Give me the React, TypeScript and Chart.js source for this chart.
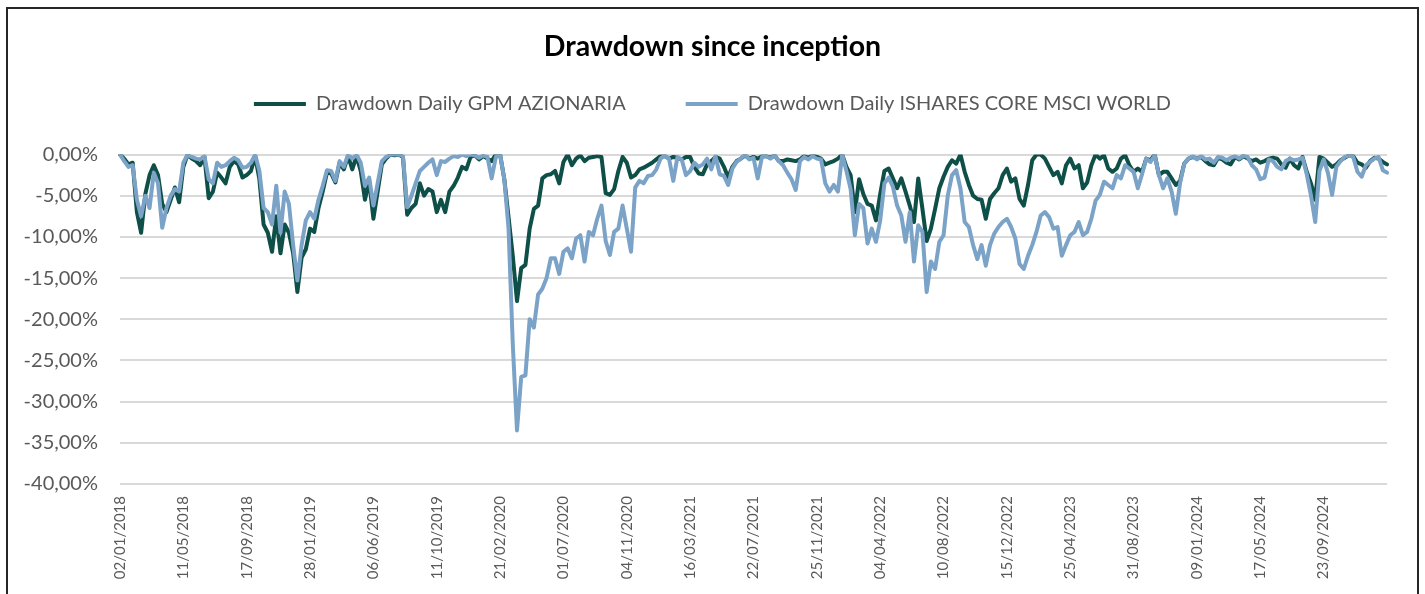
import React, { useEffect, useRef } from 'react';
import { Chart, registerables } from 'chart.js';

Chart.register(...registerables);

const TICK_LABELS = [
  '02/01/2018', '11/05/2018', '17/09/2018', '28/01/2019', '06/06/2019',
  '11/10/2019', '21/02/2020', '01/07/2020', '04/11/2020', '16/03/2021',
  '22/07/2021', '25/11/2021', '04/04/2022', '10/08/2022', '15/12/2022',
  '25/04/2023', '31/08/2023', '09/01/2024', '17/05/2024', '23/09/2024',
];

// samples between two labelled dates
const SAMPLES_PER_TICK = 15;

const SERIES_GPM = 'Drawdown Daily GPM AZIONARIA';
const SERIES_MSCI = 'Drawdown Daily ISHARES CORE MSCI WORLD';

const GPM_AZIONARIA = [
  0, -0.5, -1.2, -1.0, -7.0, -9.5, -4.8, -2.5, -1.3, -2.5, -6.0, -7.0, -5.5, -4.0, -5.8,
  -1.5, 0, -0.5, -0.8, -1.3, -0.3, -5.3, -4.5, -2.2, -2.8, -3.5, -1.5, -0.8, -1.2, -2.8,
  -2.5, -2.0, -0.2, -3.0, -8.5, -9.5, -11.8, -7.5, -12.0, -8.5, -9.5, -12.0, -16.7, -12.5, -11.5,
  -9.0, -9.4, -6.5, -4.5, -2.2, -2.3, -3.4, -1.0, -1.8, -0.2, -1.8, -0.2, -2.0, -5.5, -3.2,
  -7.8, -4.5, -1.2, -0.5, 0, -0.1, 0, -0.3, -7.3, -6.5, -6.0, -3.5, -5.0, -4.2, -4.5,
  -7.0, -5.5, -7.0, -4.5, -3.8, -2.8, -1.5, -1.8, -0.3, -0.1, -0.6, -0.2, -0.5, -0.8, 0,
  0, -3.0, -7.6, -12.3, -17.8, -13.8, -13.4, -9.0, -6.6, -6.2, -2.9, -2.5, -2.4, -2.0, -3.5,
  -0.9, 0, -1.3, -0.5, -0.1, -0.8, -0.4, -0.3, -0.2, -0.3, -4.7, -4.9, -4.2, -2.0, -0.3,
  -1.0, -2.8, -2.5, -1.8, -1.6, -1.3, -1.0, -0.6, -0.2, -0.2, -0.5, -0.3, -0.4, -0.6, -0.3,
  -0.3, -1.5, -2.3, -2.4, -1.2, -0.8, -0.3, -0.5, -1.5, -2.8, -1.5, -0.8, -0.5, -0.1, -0.5,
  -0.3, -0.5, -0.2, -0.2, -0.4, -0.1, -0.8, -0.8, -0.6, -0.7, -0.8, -0.6, -0.2, -0.4, -0.1,
  -0.3, -0.5, -1.2, -1.0, -0.8, -0.5, 0, -1.5, -2.5, -7.0, -3.0, -4.8, -6.0, -6.2, -8.0,
  -4.8, -2.0, -1.7, -2.9, -4.1, -2.9, -4.5, -6.2, -8.2, -2.9, -6.6, -10.5, -9.0, -6.6, -4.1,
  -2.7, -1.5, -0.7, -1.1, 0, -2.1, -3.7, -5.0, -5.4, -5.5, -7.8, -5.4, -4.7, -4.1, -2.5,
  -1.7, -3.3, -2.9, -5.4, -6.2, -3.7, -0.7, 0, 0, -0.5, -1.5, -2.5, -2.1, -3.5, -1.3,
  -0.5, -1.7, -1.3, -4.1, -3.4, -1.3, 0, -0.5, -0.1, -1.7, -2.1, -1.7, -0.5, -0.1, -1.3,
  -2.1, -1.7, -2.1, -0.5, -0.7, 0, -2.5, -2.1, -2.1, -2.9, -3.7, -3.2, -1.1, -0.5, -0.3,
  -0.5, -0.3, -0.8, -1.2, -1.3, -0.4, -0.6, -1.0, -1.2, -0.3, -0.6, -0.2, -0.5, -0.8, -0.6,
  -1.0, -0.8, -0.5, -0.4, -0.5, -1.2, -1.6, -0.5, -1.3, -1.7, -0.3, -2.1, -3.5, -5.5, -0.3,
  -0.5, -1.0, -1.5, -1.2, -0.7, -0.4, -0.1, -0.2, -1.0, -1.2, -1.6, -0.8, -0.4, -0.5, -0.9,
  -1.2,
];

const ISHARES_CORE_MSCI_WORLD = [
  0, -0.8, -1.5, -1.3, -5.5, -7.5, -5.0, -6.5, -2.2, -3.5, -8.9, -6.5, -5.0, -4.2, -4.5,
  -1.0, 0, -0.3, -0.5, -0.6, -0.2, -3.0, -3.5, -1.0, -1.5, -1.3, -0.8, -0.4, -0.7, -1.6,
  -1.5, -1.0, 0, -2.0, -6.5, -7.0, -8.5, -3.8, -9.5, -4.5, -6.0, -11.0, -15.3, -11.0, -8.0,
  -7.0, -7.8, -5.5, -3.8, -1.9, -2.0, -3.2, -0.8, -1.5, 0, -0.5, 0, -1.0, -3.8, -2.8,
  -6.2, -3.5, -0.8, -0.3, 0, 0, 0, -0.2, -6.4, -5.0, -3.5, -2.0, -1.5, -1.0, -0.6,
  -2.5, -0.8, -0.9, -0.5, -0.2, -0.3, 0, -0.2, 0, -0.1, -0.4, -0.1, -0.3, -2.9, -0.3,
  0, -3.0, -9.0, -23.0, -33.5, -27.0, -26.8, -20.0, -21.0, -17.0, -16.3, -15.0, -12.6, -12.6, -14.5,
  -11.8, -11.4, -12.6, -10.2, -9.8, -13.0, -9.4, -9.8, -7.8, -6.2, -10.5, -12.2, -9.4, -9.0, -6.2,
  -9.0, -11.8, -4.0, -3.2, -3.5, -2.6, -2.5, -1.8, -0.5, -0.1, -0.5, -3.2, -0.3, -0.6, -2.5,
  -2.0, -1.0, -1.5, -1.2, -0.5, -1.8, -0.2, -2.4, -2.6, -3.7, -1.7, -0.9, -0.5, 0, -0.6,
  -0.4, -2.9, -0.3, -0.2, -0.5, -0.1, -0.8, -1.3, -2.2, -3.0, -4.3, -0.8, -0.3, -0.6, -0.2,
  -0.5, -0.6, -3.5, -4.5, -3.7, -4.5, 0, -2.0, -4.2, -9.8, -6.0, -6.5, -10.8, -9.0, -10.6,
  -8.0, -3.5, -2.8, -3.9, -6.2, -7.4, -10.6, -7.0, -13.0, -8.6, -9.4, -16.7, -13.0, -13.9, -10.6,
  -9.8, -5.0, -2.5, -1.9, -4.1, -8.2, -8.8, -11.0, -12.7, -11.0, -13.5, -11.0, -9.6, -8.8, -8.2,
  -7.8, -8.8, -10.2, -13.3, -13.9, -12.3, -11.0, -9.4, -7.4, -7.0, -7.6, -9.0, -8.8, -12.3, -11.0,
  -9.8, -9.4, -8.2, -9.8, -9.4, -7.8, -5.6, -4.9, -3.3, -3.7, -4.1, -2.5, -2.9, -1.3, -1.7,
  -2.1, -4.1, -2.4, -0.5, -0.9, -0.1, -2.5, -4.1, -2.9, -4.5, -7.2, -3.5, -1.1, -0.5, -0.2,
  -0.6, -0.2, -0.6, -0.5, -1.0, -0.3, -0.4, -0.7, -0.4, -0.2, -0.5, -0.1, -0.3, -1.3, -1.8,
  -3.0, -2.8, -0.6, -0.8, -1.5, -1.8, -0.8, -0.5, -0.7, -0.6, -0.4, -2.4, -5.0, -8.2, -2.0,
  -0.6, -2.2, -4.9, -1.5, -0.8, -0.3, -0.1, -0.3, -2.1, -2.7, -1.3, -0.9, -0.5, -0.3, -1.9,
  -2.2,
];

const GREEN = '#0e4f47';
const BLUE = '#7ba2c7';
const AXIS_TEXT = '#595959';
const FONT = "Lato, 'Open Sans', sans-serif";

export default function App() {
  const canvasRef = useRef<HTMLCanvasElement | null>(null);

  useEffect(() => {
    const canvas = canvasRef.current;
    if (!canvas) return;
    const labels = GPM_AZIONARIA.map((_, i) =>
      i % SAMPLES_PER_TICK === 0 ? (TICK_LABELS[i / SAMPLES_PER_TICK] ?? '') : ''
    );
    const defaultGen = (Chart.defaults.plugins.legend.labels as any).generateLabels;

    const chart = new Chart(canvas, {
      type: 'line',
      data: {
        labels,
        datasets: [
          {
            label: SERIES_GPM,
            data: GPM_AZIONARIA,
            borderColor: GREEN,
            backgroundColor: GREEN,
            borderWidth: 4,
            pointRadius: 0,
            tension: 0,
            borderJoinStyle: 'round',
            borderCapStyle: 'round',
            order: 1,
          },
          {
            label: SERIES_MSCI,
            data: ISHARES_CORE_MSCI_WORLD,
            borderColor: BLUE,
            backgroundColor: BLUE,
            borderWidth: 4,
            pointRadius: 0,
            tension: 0,
            borderJoinStyle: 'round',
            borderCapStyle: 'round',
            order: 0,
          },
        ],
      },
      options: {
        responsive: false,
        animation: false,
        events: [],
        layout: { padding: { left: 0, right: 0, top: 0, bottom: 0 } },
        plugins: {
          tooltip: { enabled: false },
          title: {
            display: true,
            text: 'Drawdown since inception',
            color: '#000000',
            font: { family: FONT, size: 28.5, weight: 'bold', lineHeight: 1.2 },
            padding: { top: 20.9, bottom: -30.1 },
          },
          legend: {
            display: true,
            position: 'top',
            labels: {
              boxWidth: 52,
              boxHeight: 4,
              padding: 60,
              color: AXIS_TEXT,
              font: { family: FONT, size: 20 },
              sort: (a: any, b: any) => a.datasetIndex - b.datasetIndex,
              generateLabels: (c: any) =>
                defaultGen(c).map((l: any) => ({ ...l, lineWidth: 0 })),
            },
          },
          subtitle: {
            display: true,
            text: '',
            weight: 500,
            font: { family: FONT, size: 10, lineHeight: 1 },
            padding: { top: 0, bottom: 20.5 },
          } as any,
        },
        scales: {
          x: {
            type: 'category',
            grid: { display: false, drawTicks: false },
            border: { display: false },
            ticks: {
              autoSkip: false,
              maxRotation: 90,
              minRotation: 90,
              padding: 12,
              color: AXIS_TEXT,
              font: { family: FONT, size: 15 },
            },
            afterFit: (scale: any) => {
              scale.height = 125;
            },
          },
          y: {
            position: 'left',
            min: -40,
            max: 0,
            grid: { color: '#d9d9d9', lineWidth: 2, drawTicks: false },
            border: { display: false },
            ticks: {
              stepSize: 5,
              padding: 22,
              color: AXIS_TEXT,
              font: { family: FONT, size: 20 },
              callback: (v: any) => Number(v).toFixed(2).replace('.', ',') + '%',
            },
            afterFit: (scale: any) => {
              scale.width = 112;
            },
          },
          // empty right margin so that the plot ends where the reference's does
          yRightMargin: {
            type: 'linear',
            position: 'right',
            display: true,
            grid: { display: false, drawTicks: false },
            border: { display: false },
            ticks: { display: false },
            afterFit: (scale: any) => {
              scale.width = 25;
            },
          },
        },
      },
    } as any);

    return () => chart.destroy();
  }, []);

  return (
    <div
      style={{
        position: 'fixed',
        left: 0,
        top: 0,
        width: 1425,
        height: 594,
        overflow: 'hidden',
        background: '#ffffff',
      }}
    >
      <div
        style={{
          position: 'absolute',
          left: 6,
          top: 7,
          width: 1413,
          height: 640,
          border: '2px solid #262626',
          boxSizing: 'border-box',
          background: '#ffffff',
        }}
      >
        <canvas
          ref={canvasRef}
          width={1409}
          height={600}
          style={{ display: 'block', width: 1409, height: 600 }}
        />
      </div>
    </div>
  );
}
